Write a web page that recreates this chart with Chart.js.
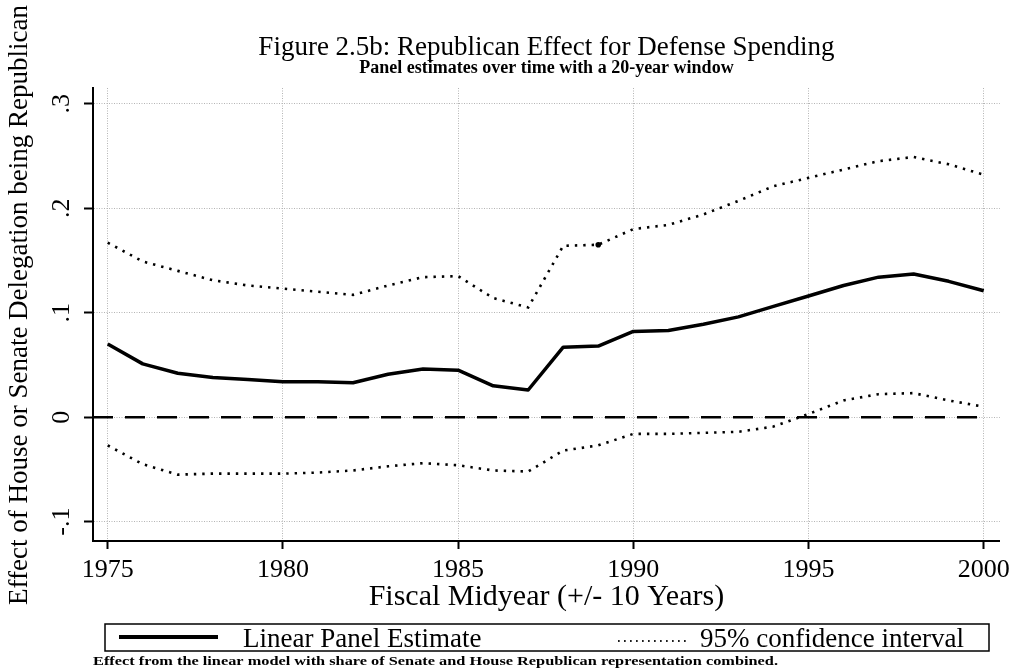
<!DOCTYPE html>
<html>
<head>
<meta charset="utf-8">
<title>Republican Effect for Defense Spending</title>
<script src="https://cdn.jsdelivr.net/npm/chart.js@4.4.1/dist/chart.umd.min.js"></script>
<style>
  html, body { margin: 0; padding: 0; background: #fff; }
  #wrap { width: 1016px; height: 672px; }
</style>
</head>
<body>
<div id="wrap"><canvas id="chart" width="1016" height="672"></canvas></div>
<script>
// Panel estimates, one per fiscal midyear
const years = [1975, 1976, 1977, 1978, 1979, 1980, 1981, 1982, 1983, 1984, 1985, 1986, 1987,
               1988, 1989, 1990, 1991, 1992, 1993, 1994, 1995, 1996, 1997, 1998, 1999, 2000]
const estimate = [0.070, 0.051, 0.042, 0.038, 0.036, 0.034, 0.034, 0.033, 0.041, 0.046, 0.045, 0.030, 0.026,
                  0.067, 0.068, 0.082, 0.083, 0.089, 0.096, 0.106, 0.116, 0.126, 0.134, 0.137, 0.130, 0.121]
const upperCI = [0.167, 0.149, 0.140, 0.131, 0.126, 0.123, 0.120, 0.117, 0.126, 0.134, 0.135, 0.114, 0.105,
                 0.164, 0.165, 0.180, 0.184, 0.194, 0.207, 0.221, 0.229, 0.237, 0.245, 0.249, 0.242, 0.232]
const lowerCI = [-0.027, -0.045, -0.055, -0.054, -0.054, -0.054, -0.053, -0.051, -0.047, -0.044, -0.046, -0.051, -0.052,
                 -0.032, -0.027, -0.016, -0.016, -0.015, -0.014, -0.009, 0.003, 0.016, 0.022, 0.023, 0.016, 0.010]

const xTicks = [1975, 1980, 1985, 1990, 1995, 2000]
const yTicks = [-0.1, 0, 0.1, 0.2, 0.3]
const yTickLabels = ["-.1", "0", ".1", ".2", ".3"]
const seriesLabels = ["Linear Panel Estimate", "95% confidence interval"]
const yTitle = "Effect of House or Senate Delegation being Republican"
const noteText = "Effect from the linear model with share of Senate and House Republican representation combined."

const SERIF = "'Liberation Serif', 'Times New Roman', serif"

const toPoints = (values) => years.map((x, i) => ({ x: x, y: values[i] }))

// y tick labels and the y title are drawn turned on their side
const sideText = {
  id: "sideText",
  afterDraw(chart) {
    const { ctx, scales: { y } } = chart
    const turned = (text, x, yy) => {
      ctx.save()
      ctx.translate(x, yy)
      ctx.rotate(-Math.PI / 2)
      ctx.fillText(text, 0, 0)
      ctx.restore()
    }
    ctx.save()
    ctx.fillStyle = "#000"
    ctx.textAlign = "center"
    ctx.textBaseline = "middle"
    ctx.font = "26px " + SERIF
    yTicks.forEach((v, i) => turned(yTickLabels[i], 62, y.getPixelForValue(v)))
    ctx.font = "27px " + SERIF
    turned(yTitle, 20, 305)
    ctx.restore()
  }
}

// dashed reference line at zero
const zeroLine = {
  id: "zeroLine",
  beforeDatasetsDraw(chart) {
    const { ctx, chartArea, scales: { x, y } } = chart
    const py = y.getPixelForValue(0)
    ctx.save()
    ctx.strokeStyle = "#000"
    ctx.lineWidth = 2.5
    ctx.setLineDash([20, 12])
    ctx.beginPath()
    ctx.moveTo(chartArea.left, py)
    ctx.lineTo(x.getPixelForValue(years[years.length - 1]), py)
    ctx.stroke()
    ctx.restore()
  }
}

// boxed legend and the footnote under it
const boxedLegend = {
  id: "boxedLegend",
  afterDraw(chart) {
    const { ctx } = chart
    ctx.save()
    ctx.strokeStyle = "#000"
    ctx.lineWidth = 1.5
    ctx.strokeRect(105, 624, 884, 27)

    ctx.lineWidth = 4
    ctx.beginPath()
    ctx.moveTo(119, 637)
    ctx.lineTo(218, 637)
    ctx.stroke()

    ctx.fillStyle = "#000"
    ctx.font = "27px " + SERIF
    ctx.textBaseline = "alphabetic"
    ctx.fillText(seriesLabels[0], 243, 647)

    const w = ctx.measureText(seriesLabels[1]).width
    const tx = 964 - w
    ctx.fillText(seriesLabels[1], tx, 647)

    ctx.lineWidth = 2
    ctx.setLineDash([1.5, 4.5])
    ctx.beginPath()
    ctx.moveTo(tx - 82, 641)
    ctx.lineTo(tx - 12, 641)
    ctx.stroke()
    ctx.setLineDash([])

    ctx.font = "bold 12px " + SERIF
    const nw = ctx.measureText(noteText).width
    ctx.translate(93, 665)
    ctx.scale(685 / nw, 1)
    ctx.fillText(noteText, 0, 0)
    ctx.restore()
  }
}

const ciStyle = {
  borderColor: "#000",
  borderWidth: 2.6,
  borderDash: [2.4, 6],
  borderCapStyle: "butt",
  pointRadius: 0,
  tension: 0,
  fill: false
}

new Chart(document.getElementById("chart"), {
  type: "line",
  data: {
    datasets: [
      {
        label: seriesLabels[0],
        data: toPoints(estimate),
        borderColor: "#000",
        borderWidth: 3.5,
        borderJoinStyle: "round",
        pointRadius: 0,
        tension: 0,
        fill: false
      },
      { ...ciStyle, label: seriesLabels[1], data: toPoints(upperCI),
        pointRadius: years.map(yr => yr === 1989 ? 2.8 : 0), pointBackgroundColor: "#000", pointBorderWidth: 0 },
      { ...ciStyle, label: seriesLabels[1] + " (lower)", data: toPoints(lowerCI) }
    ]
  },
  options: {
    responsive: false,
    devicePixelRatio: 1,
    animation: false,
    layout: { padding: { left: 0, right: 14, top: 0, bottom: 0 } },
    plugins: {
      legend: { display: false },
      tooltip: { enabled: false },
      title: {
        display: true,
        fullSize: false,
        text: "Figure 2.5b: Republican Effect for Defense Spending",
        color: "#000",
        font: { family: SERIF, size: 27, weight: "normal", lineHeight: 1 },
        padding: { top: 34.5, bottom: 0 }
      },
      subtitle: {
        display: true,
        fullSize: false,
        text: "Panel estimates over time with a 20-year window",
        color: "#000",
        font: { family: SERIF, size: 18, weight: "bold", lineHeight: 1 },
        padding: { top: -2.5, bottom: 11 }
      }
    },
    scales: {
      x: {
        type: "linear",
        min: 1974.58,
        max: 2000.46,
        afterBuildTicks: (axis) => { axis.ticks = xTicks.map(v => ({ value: v })) },
        afterFit: (axis) => { axis.height = 131 },
        ticks: {
          color: "#000",
          font: { family: SERIF, size: 26 },
          padding: 6,
          maxRotation: 0,
          callback: (v) => String(v)
        },
        grid: {
          color: "#b4b4b4",
          lineWidth: 1,
          tickColor: "#000",
          tickWidth: 2,
          tickLength: 8,
          tickBorderDash: []
        },
        border: { display: true, color: "#000", width: 2, dash: [1, 1.5] },
        title: {
          display: true,
          text: "Fiscal Midyear (+/- 10 Years)",
          color: "#000",
          font: { family: SERIF, size: 30 },
          padding: { top: 0, bottom: 57 }
        }
      },
      y: {
        type: "linear",
        min: -0.1185,
        max: 0.315,
        afterBuildTicks: (axis) => { axis.ticks = yTicks.map(v => ({ value: v })) },
        afterFit: (axis) => { axis.width = 93 },
        ticks: { display: false },
        grid: {
          color: "#b4b4b4",
          lineWidth: 1,
          tickColor: "#000",
          tickWidth: 2,
          tickLength: 9,
          tickBorderDash: []
        },
        border: { display: true, color: "#000", width: 2, dash: [1, 1.5] },
        title: { display: false }
      }
    }
  },
  plugins: [zeroLine, sideText, boxedLegend]
})
</script>
</body>
</html>
